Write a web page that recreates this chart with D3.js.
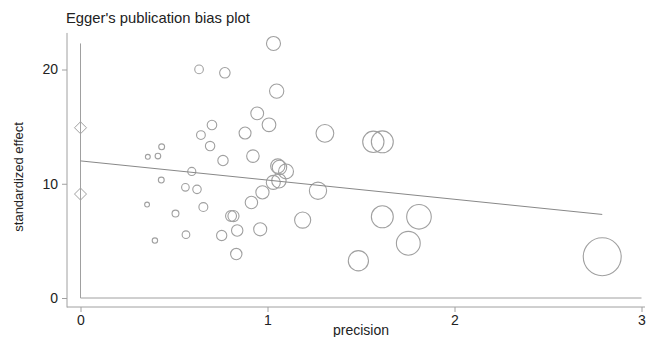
<!DOCTYPE html>
<html>
<head>
<meta charset="utf-8">
<script src="https://cdn.jsdelivr.net/npm/d3@7"></script>
<style>
html,body{margin:0;padding:0;background:#fff;}
svg{display:block;}
text{font-family:"Liberation Sans",Arial,Helvetica,sans-serif;fill:#222;}
</style>
</head>
<body>
<svg id="chart" width="647" height="337"></svg>
<script>
// Data
const precision = [1.032,0.634,0.772,1.049,0.945,1.008,0.703,0.880,0.644,1.307,1.566,1.614,0.693,0.434,0.360,0.414,0.762,0.922,1.055,1.064,1.099,0.595,1.031,1.061,0.432,1.270,0.561,0.623,0.973,0.914,0.356,0.657,0.508,0.805,0.818,1.188,1.614,1.810,0.838,0.961,0.755,0.564,0.398,0.833,1.753,1.486,2.790];
const stdEffect = [22.28,20.01,19.71,18.11,16.16,15.16,15.14,14.44,14.26,14.41,13.67,13.67,13.30,13.23,12.36,12.42,12.03,12.42,11.55,11.43,11.08,11.08,10.12,10.26,10.32,9.39,9.69,9.51,9.25,8.36,8.18,7.96,7.39,7.17,7.17,6.82,7.11,7.11,5.91,6.01,5.47,5.54,5.03,3.85,4.79,3.26,3.61];
const biasIntercept = 12.0;
const biasSlope = -1.68;
const biasCI = [9.1, 14.9];
const xTicks = [0, 1, 2, 3];
const yTicks = [0, 10, 20];
const title = "Egger's publication bias plot";
const xLabel = "precision";
const yLabel = "standardized effect";

const svg = d3.select("#chart");
const gray = "#a0a0a0";
const x = d3.scaleLinear().domain([0, 3]).range([80.5, 641.5]);
const y = d3.scaleLinear().domain([0, 20]).range([298, 69.5]);
const r = d3.scaleLinear().domain([0, 1]).range([0, 6.8]);

// title
svg.append("text").attr("x", 66).attr("y", 23).attr("font-size", 14.8).text(title);

// outer axes
const yAxis = d3.axisLeft(y).tickValues(yTicks).tickSize(5).tickPadding(4);
const gy = svg.append("g").attr("transform", "translate(67,0)").call(yAxis);
gy.select(".domain").remove();
gy.append("line").attr("x1", 0).attr("x2", 0).attr("y1", y(23.2)).attr("y2", 307.5).attr("stroke", gray);
gy.selectAll(".tick line").attr("stroke", gray);
gy.selectAll(".tick text").attr("font-size", 14).attr("font-family", "Liberation Sans, Arial, sans-serif").attr("fill", "#222");

const xAxis = d3.axisBottom(x).tickValues(xTicks).tickFormat(d3.format("d")).tickSize(5).tickPadding(3);
const gx = svg.append("g").attr("transform", "translate(0,307)").call(xAxis);
gx.select(".domain").remove();
gx.append("line").attr("x1", 67).attr("x2", 645).attr("y1", 0).attr("y2", 0).attr("stroke", gray);
gx.selectAll(".tick line").attr("stroke", gray);
gx.selectAll(".tick text").attr("font-size", 14).attr("font-family", "Liberation Sans, Arial, sans-serif").attr("fill", "#222");

svg.append("text").attr("x", x(1.5)).attr("y", 335).attr("text-anchor", "middle").attr("font-size", 14).text(xLabel);
svg.append("text").attr("transform", `translate(23,${y(10.6)}) rotate(-90)`).attr("text-anchor", "middle").attr("font-size", 13).text(yLabel);

// inner reference lines
svg.append("line").attr("x1", x(0)).attr("x2", x(0)).attr("y1", y(d3.max(stdEffect))).attr("y2", y(0)).attr("stroke", gray);
svg.append("line").attr("x1", x(0)).attr("x2", x(3)).attr("y1", y(0)).attr("y2", y(0)).attr("stroke", gray);

// points
svg.append("g").selectAll("circle").data(precision).join("circle")
  .attr("cx", d => x(d)).attr("cy", (d, i) => y(stdEffect[i])).attr("r", d => r(d))
  .attr("fill", "none").attr("stroke", gray).attr("stroke-width", 1.1);

// regression line
const xMax = d3.max(precision);
svg.append("line").attr("x1", x(0)).attr("y1", y(biasIntercept))
  .attr("x2", x(xMax)).attr("y2", y(biasIntercept + biasSlope * xMax))
  .attr("stroke", "#888").attr("stroke-width", 1);

// CI diamonds
const dsz = 6;
svg.append("g").selectAll("path").data(biasCI).join("path")
  .attr("d", d => `M${x(0)},${y(d)-dsz}L${x(0)+dsz},${y(d)}L${x(0)},${y(d)+dsz}L${x(0)-dsz},${y(d)}Z`)
  .attr("fill", "none").attr("stroke", gray);
</script>
</body>
</html>
